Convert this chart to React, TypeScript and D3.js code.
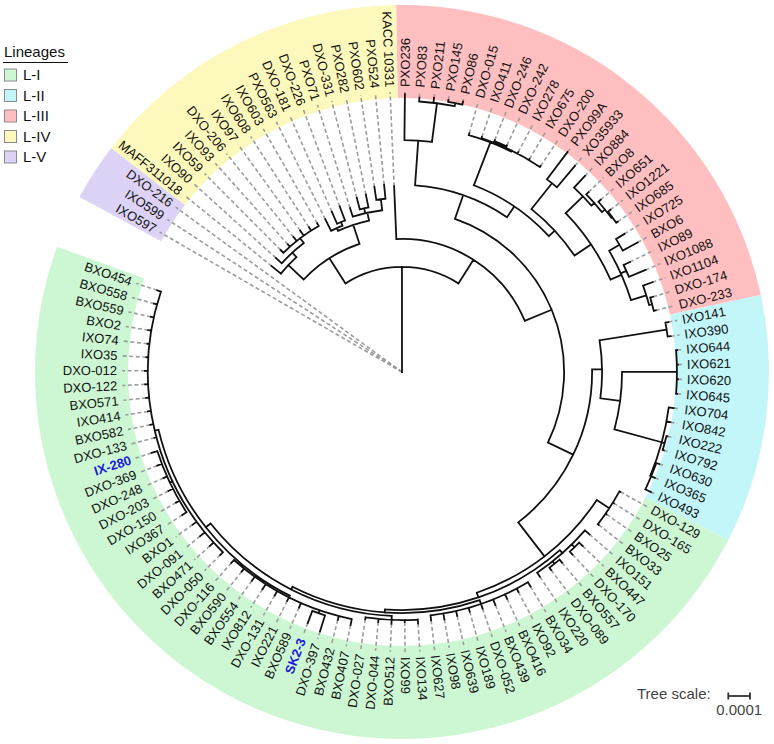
import React, { useMemo } from "react";
import * as d3 from "d3";

// ---------------- data ----------------
const LINEAGES = ["L-I", "L-II", "L-III", "L-IV", "L-V"];
const LINEAGE_FIRST_LEAF = ["DXO-129", "IXO141", "PXO236", "MAFF311018", "IXO597"];
const LINEAGE_LAST_LEAF = ["BXO454", "IXO493", "DXO-233", "KACC 10331", "DXO-216"];
const LINEAGE_COLORS = ["#cdf7d3", "#c3f6f9", "#ffbfc0", "#fdf8bb", "#dcd3f6"];
const HIGHLIGHTED_LEAVES = ["IX-280", "SK2-3"];

const TREE_SCALE_VALUE = 0.0001;
const TREE_SCALE_LABEL = "0.0001";
const LENGTH_UNIT = 1e-5; // branch lengths below are in units of 1e-5 substitutions/site

// clades (Newick, branch lengths in LENGTH_UNIT)
const CLADE_L_V = "IXO597:0,IXO599:0,DXO-216:0";
const CLADE_L_IV =
  "((MAFF311018:5.5,(IXO90:3.7,(IXO59:1.8,IXO93:1.4,DXO-206:2.3,IXO97:2.8,IXO608:1.8,IXO603:1.4):2.8):2.8):9.7,((PXO563:6.0,(DXO-181:6.0,DXO-226:6.9):1.8):1.4,(PXO71:4.1,(DXO-331:5.5,PXO282:6.0):2.3,(PXO602:6.0,PXO524:6.5):5.1):3.7):9.2)";
const CLADE_L_III =
  "((PXO236:21.2,(PXO83:1.8,PXO211:2.3,(PXO145:0.9,PXO86:1.4):1.4):18.0):20.7,((DXO-015:0.9,(IXO411:0.5,(DXO-246:0.5,DXO-242:0.5):0.7,IXO278:0.7,IXO675:0.5,DXO-200:0.5):0.5):21.2,((PXO99A:15.7,XO35933:12.9):15.2,((IXO884:7.4,(BXO8:1.4,(IXO651:1.4,(IXO1221:1.4,IXO685:0.9):0.5):1.8):1.8):11.1,((IXO725:4.6,BXO6:7.8):5.5,(IXO89:3.2,IXO1088:8.3):2.8,(IXO1104:4.6,(DXO-174:1.4,DXO-233:0.9):1.4):7.4):5.5):9.2):3.7):6.0)";
const CLADE_L_II =
  "((IXO141:1.4,IXO390:1.4):31.3,((IXO644:0.5,IXO621:0.5,IXO620:0.5,IXO645:0.5):25.3,(IXO704:2.3,IXO842:1.8,(IXO222:0.5,IXO792:0.5):1.4,(IXO630:1.4,IXO365:1.8,IXO493:2.8):0.5):22.6):9.2)";
const CLADE_L_I =
  "((DXO-129:0.5,DXO-165:0.5,BXO25:0.5,BXO33:0.5):6.9,((IXO151:2.8,(BXO447:2.3,DXO-170:1.8):1.8,(BXO557:1.8,DXO-089:1.4):1.4,IXO220:2.3):1.8,((BXO34:2.3,IXO92:1.8,BXO416:2.3,BXO439:2.8,DXO-052:2.3,IXO189:1.8,IXO639:2.3,IXO98:2.8,IXO627:2.3):1.8,((IXO134:1.8,IXO99:0.9,BXO512:1.8,DXO-044:1.4,DXO-027:0.9):1.8,((BXO407:2.8,BXO432:1.8,(DXO-397:7.8,SK2-3:6.0):1.4,BXO589:2.3,IXO221:1.8,DXO-131:2.3,IXO812:2.8,BXO554:2.3,BXO590:1.8,DXO-116:1.8):0.9,(DXO-050:1.8,BXO471:2.3,DXO-091:2.8,BXO1:2.3,(IXO367:2.3,DXO-150:1.8,DXO-203:2.3,DXO-248:1.8,DXO-369:2.3,IX-280:2.8):1.4,DXO-133:0.9,BXO582:1.4,IXO414:1.4,BXO571:1.4,DXO-122:1.4,DXO-012:1.4,IXO35:0.9,IXO74:0.9,BXO2:1.4,BXO559:1.4,BXO558:1.4,BXO454:1.8):1.8):2.8):1.4):1.4):2.3)";

const TREE_NEWICK = `(${CLADE_L_V},(${CLADE_L_IV}:13.8,('KACC 10331':24.4,(${CLADE_L_III}:11.5,(${CLADE_L_II}:4.6,${CLADE_L_I}:19.8):12.9):13.4):12.9):48.4);`;

// ---------------- layout constants ----------------
const W = 774;
const H = 744;
const CX = 402;
const CY = 372;
const FIRST_ANGLE = -60; // degrees clockwise from north
const LAST_ANGLE = 288.45;
const BAND_INNER = 274;
const BAND_OUTER = 367;
const DASH_END = 280;
const LABEL_R = 285;
const SCALE_PX = 21.7; // pixels for TREE_SCALE_VALUE
const FONT = "'Liberation Sans', Arial, Helvetica, sans-serif";

type NNode = { name: string; length: number; children?: NNode[] };

function parseNewick(s: string): NNode {
  let i = 0;
  function node(): NNode {
    const n: NNode = { name: "", length: 0 };
    if (s[i] === "(") {
      i++;
      n.children = [];
      for (;;) {
        n.children.push(node());
        if (s[i] === ",") { i++; continue; }
        if (s[i] === ")") { i++; break; }
        throw new Error("bad newick at " + i);
      }
    }
    if (s[i] === "'") {
      i++;
      const j = s.indexOf("'", i);
      n.name = s.slice(i, j);
      i = j + 1;
    } else {
      const st = i;
      while (i < s.length && !"(),:;".includes(s[i])) i++;
      n.name = s.slice(st, i).trim();
    }
    if (s[i] === ":") {
      i++;
      const st = i;
      while (i < s.length && !"(),;".includes(s[i])) i++;
      n.length = parseFloat(s.slice(st, i));
    }
    return n;
  }
  return node();
}

const rad = (deg: number) => (deg * Math.PI) / 180;
const polar = (deg: number, r: number): [number, number] => [
  CX + r * Math.sin(rad(deg)),
  CY - r * Math.cos(rad(deg)),
];

export default function App() {
  const model = useMemo(() => {
    const root: any = d3.hierarchy(parseNewick(TREE_NEWICK), (d: NNode) => d.children);
    const leaves: any[] = root.leaves();
    const angle = d3.scaleLinear().domain([0, leaves.length - 1]).range([FIRST_ANGLE, LAST_ANGLE]);
    const rScale = d3.scaleLinear().domain([0, TREE_SCALE_VALUE]).range([0, SCALE_PX]);
    root.eachBefore((n: any) => {
      n.r = n.parent ? n.parent.r + rScale(n.data.length * LENGTH_UNIT) : 0;
    });
    leaves.forEach((l, i) => (l.theta = angle(i)));
    root.eachAfter((n: any) => {
      if (n.children) n.theta = (n.children[0].theta + n.children[n.children.length - 1].theta) / 2;
    });

    const p = d3.path();
    root.each((n: any) => {
      if (n.parent) {
        const a = polar(n.theta, n.parent.r);
        const b = polar(n.theta, n.r);
        p.moveTo(a[0], a[1]);
        p.lineTo(b[0], b[1]);
      }
      if (n.children && n.r > 0.1) {
        const t0 = n.children[0].theta;
        const t1 = n.children[n.children.length - 1].theta;
        const a0 = rad(t0) - Math.PI / 2;
        const a1 = rad(t1) - Math.PI / 2;
        p.moveTo(CX + n.r * Math.cos(a0), CY + n.r * Math.sin(a0));
        p.arc(CX, CY, n.r, a0, a1, false);
      }
    });

    const step = angle(1) - angle(0);
    const idx = (name: string) => leaves.findIndex((l) => l.data.name === name);
    const arcGen = d3.arc();
    const bands = LINEAGES.map((lin, k) => {
      const s = angle(idx(LINEAGE_FIRST_LEAF[k])) - step / 2;
      const e = angle(idx(LINEAGE_LAST_LEAF[k])) + step / 2;
      return {
        lin,
        color: LINEAGE_COLORS[k],
        d: arcGen({ innerRadius: BAND_INNER, outerRadius: BAND_OUTER, startAngle: rad(s), endAngle: rad(e) } as any) as string,
      };
    });
    return { leaves, treePath: p.toString(), bands };
  }, []);

  return (
    <svg
      width={W}
      height={H}
      viewBox={`0 0 ${W} ${H}`}
      style={{ position: "absolute", left: 0, top: 0, background: "#fff" }}
      fontFamily={FONT}
    >
      <rect x={0} y={0} width={W} height={H} fill="#fff" />
      {/* lineage bands */}
      <g transform={`translate(${CX},${CY})`}>
        {model.bands.map((b) => (
          <path key={b.lin} d={b.d} fill={b.color} />
        ))}
      </g>
      {/* dashed leader lines */}
      <g stroke="#9c9c9c" strokeWidth={1.6} strokeDasharray="4,2.6" fill="none">
        {model.leaves.map((l: any) => {
          const a = polar(l.theta, l.r);
          const b = polar(l.theta, DASH_END);
          return <line key={l.data.name} x1={a[0]} y1={a[1]} x2={b[0]} y2={b[1]} />;
        })}
      </g>
      {/* tree */}
      <path d={model.treePath} fill="none" stroke="#111" strokeWidth={1.8} strokeLinecap="square" />
      {/* labels */}
      <g fontSize={13}>
        {model.leaves.map((l: any) => {
          const tn = ((l.theta % 360) + 360) % 360;
          const right = tn < 180;
          const [x, y] = polar(l.theta, LABEL_R);
          const hl = HIGHLIGHTED_LEAVES.includes(l.data.name);
          return (
            <text
              key={l.data.name}
              transform={`translate(${x},${y}) rotate(${right ? l.theta - 90 : l.theta + 90})`}
              textAnchor={right ? "start" : "end"}
              dominantBaseline="central"
              fill={hl ? "#1c1cd8" : "#111"}
              fontWeight={hl ? "bold" : "normal"}
            >
              {l.data.name}
            </text>
          );
        })}
      </g>
      {/* legend */}
      <g>
        <text x={4} y={57} fontSize={15} fill="#111">Lineages</text>
        <line x1={3} x2={68} y1={62.5} y2={62.5} stroke="#111" strokeWidth={1} />
        {LINEAGES.map((lin, k) => (
          <g key={lin} transform={`translate(4,${68.5 + k * 20.5})`}>
            <rect x={0.5} y={0.5} width={12} height={12} fill={LINEAGE_COLORS[k]} stroke="#8a8a8a" strokeWidth={1} />
            <text x={19} y={11.5} fontSize={15} fill="#111">{lin}</text>
          </g>
        ))}
      </g>
      {/* tree scale */}
      <g fill="#444" fontSize={15}>
        <text x={637} y={699}>Tree scale:</text>
        <g stroke="#333" strokeWidth={1.8}>
          <line x1={728.3} x2={728.3 + SCALE_PX} y1={696} y2={696} />
          <line x1={728.3} x2={728.3} y1={692.5} y2={699.5} />
          <line x1={728.3 + SCALE_PX} x2={728.3 + SCALE_PX} y1={692.5} y2={699.5} />
        </g>
        <text x={739.2} y={715} textAnchor="middle">{TREE_SCALE_LABEL}</text>
      </g>
    </svg>
  );
}
